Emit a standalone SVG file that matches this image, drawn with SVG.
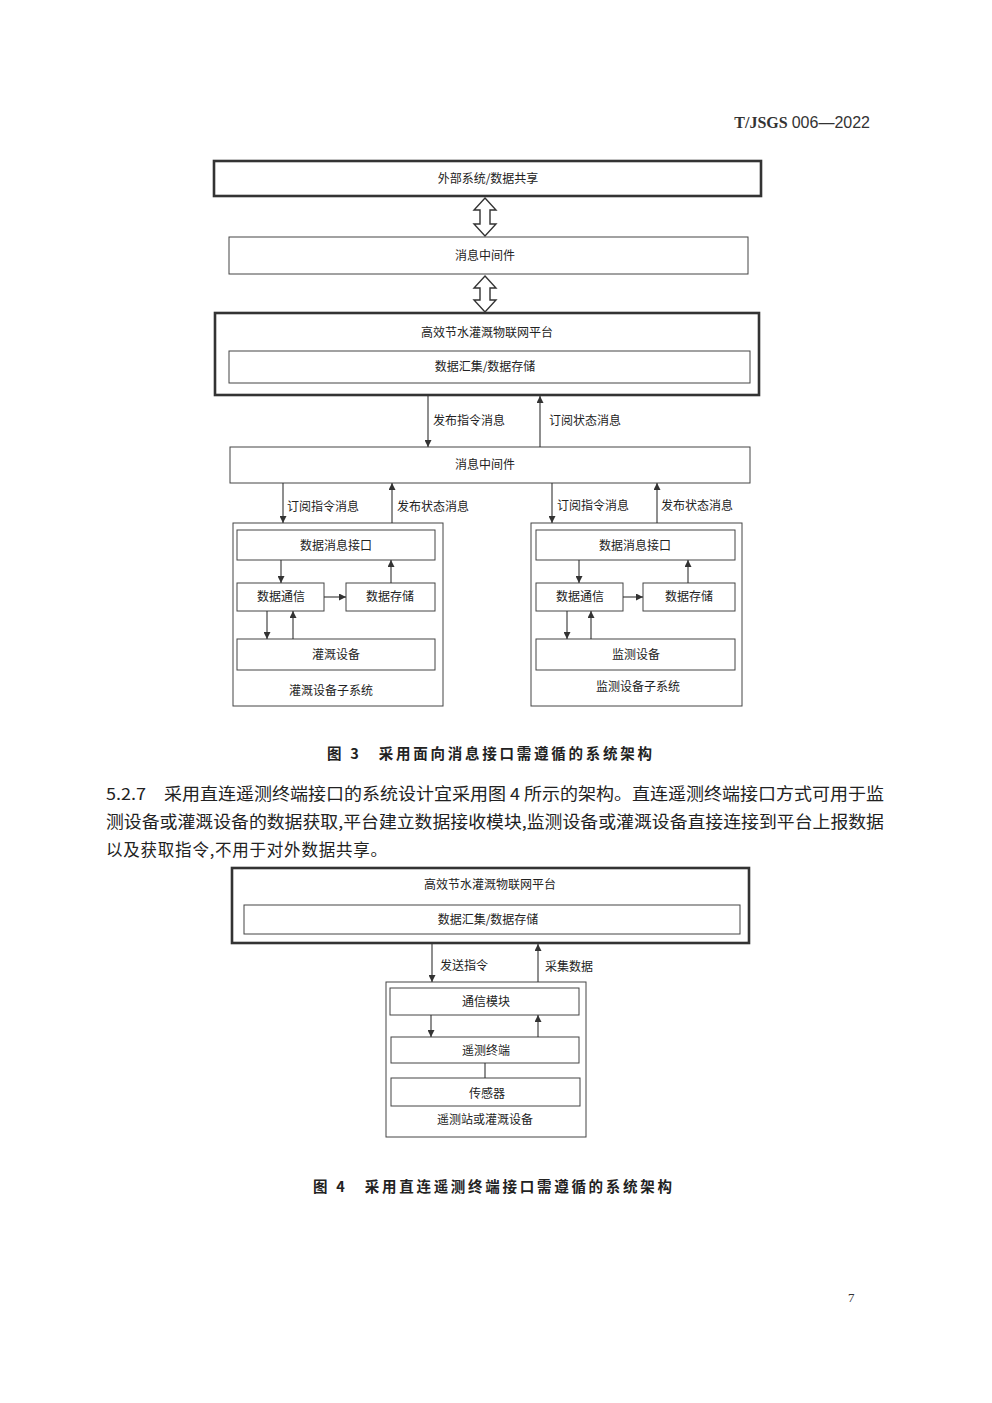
<svg xmlns="http://www.w3.org/2000/svg" width="992" height="1403" viewBox="0 0 992 1403">
<defs>
<marker id="ah" viewBox="0 0 10 10" refX="10" refY="5" markerWidth="7" markerHeight="7" markerUnits="userSpaceOnUse" orient="auto"><path d="M0,0 L10,5 L0,10 z" fill="#333"/></marker>
<style>
.thick{fill:#fff;stroke:#333;stroke-width:2.6}
.thin{fill:#fff;stroke:#444;stroke-width:1}
.t{font-family:"Noto Sans CJK SC","Liberation Sans",sans-serif;font-size:12px;fill:#222}
.c{text-anchor:middle}
.ln{stroke:#333;stroke-width:1.1;fill:none;marker-end:url(#ah)}
.pl{stroke:#333;stroke-width:1.1;fill:none}
.hollow{fill:#fff;stroke:#333;stroke-width:1.4}
.body{font-family:"Noto Sans CJK SC","Liberation Sans",sans-serif;font-size:16.5px;fill:#222}
.cap{font-family:"Noto Sans CJK SC","Liberation Sans",sans-serif;font-size:14.5px;font-weight:bold;fill:#222}
</style>
</defs>
<rect width="992" height="1403" fill="#fff"/>
<text x="870" y="128" font-family="Liberation Serif,serif" font-size="16" font-weight="bold" fill="#333" text-anchor="end">T/JSGS <tspan font-family="Liberation Sans,sans-serif" font-weight="normal">006—2022</tspan></text>

<!-- Figure 3 nodes -->
<g id="ext"><rect class="thick" x="214" y="161" width="547" height="35"/><text class="t c" x="488" y="183">外部系统/数据共享</text></g>
<g id="mq1"><rect class="thin" x="229" y="237" width="519" height="37"/><text class="t c" x="485" y="260">消息中间件</text></g>
<g id="platform"><rect class="thick" x="215" y="313" width="544" height="82"/><text class="t c" x="487" y="337">高效节水灌溉物联网平台</text>
<rect class="thin" x="229" y="351" width="521" height="32"/><text class="t c" x="485" y="371">数据汇集/数据存储</text></g>
<g id="mq2"><rect class="thin" x="230" y="447" width="520" height="36"/><text class="t c" x="485" y="469">消息中间件</text></g>

<g id="sub1">
<rect class="thin" x="233" y="523" width="210" height="183"/>
<rect class="thin" x="237" y="530" width="198" height="30"/><text class="t c" x="336" y="550">数据消息接口</text>
<rect class="thin" x="237" y="583" width="87" height="28"/><text class="t c" x="281" y="601">数据通信</text>
<rect class="thin" x="346" y="583" width="89" height="28"/><text class="t c" x="390" y="601">数据存储</text>
<rect class="thin" x="237" y="639" width="198" height="31"/><text class="t c" x="336" y="659">灌溉设备</text>
<text class="t c" x="331" y="695">灌溉设备子系统</text>
</g>
<g id="sub2">
<rect class="thin" x="531" y="523" width="211" height="183"/>
<rect class="thin" x="536" y="530" width="199" height="30"/><text class="t c" x="635" y="550">数据消息接口</text>
<rect class="thin" x="536" y="583" width="87" height="28"/><text class="t c" x="580" y="601">数据通信</text>
<rect class="thin" x="643" y="583" width="92" height="28"/><text class="t c" x="689" y="601">数据存储</text>
<rect class="thin" x="536" y="639" width="199" height="31"/><text class="t c" x="636" y="659">监测设备</text>
<text class="t c" x="638" y="691">监测设备子系统</text>
</g>

<!-- Figure 3 connectors -->
<g id="connectors3">
<polygon class="hollow" points="485,198 496,210 490,210 490,224 496,224 485,236 474,224 480,224 480,210 474,210"/>
<polygon class="hollow" points="485,276 496,288 490,288 490,300 496,300 485,312 474,300 480,300 480,288 474,288"/>
<line class="ln" x1="428" y1="396" x2="428" y2="447"/>
<line class="ln" x1="540" y1="447" x2="540" y2="396"/>
<text class="t" x="433" y="425">发布指令消息</text>
<text class="t" x="549" y="425">订阅状态消息</text>
<line class="ln" x1="283" y1="483" x2="283" y2="523"/>
<line class="ln" x1="392" y1="523" x2="392" y2="483"/>
<text class="t" x="287" y="511">订阅指令消息</text>
<text class="t" x="397" y="511">发布状态消息</text>
<line class="ln" x1="552" y1="483" x2="552" y2="523"/>
<line class="ln" x1="657" y1="523" x2="657" y2="483"/>
<text class="t" x="557" y="510">订阅指令消息</text>
<text class="t" x="661" y="510">发布状态消息</text>
<line class="ln" x1="281" y1="560" x2="281" y2="583"/>
<line class="ln" x1="391" y1="583" x2="391" y2="560"/>
<line class="ln" x1="324" y1="597" x2="346" y2="597"/>
<line class="ln" x1="267" y1="611" x2="267" y2="639"/>
<line class="ln" x1="293" y1="639" x2="293" y2="611"/>
<line class="ln" x1="579" y1="560" x2="579" y2="583"/>
<line class="ln" x1="688" y1="583" x2="688" y2="560"/>
<line class="ln" x1="623" y1="597" x2="643" y2="597"/>
<line class="ln" x1="567" y1="611" x2="567" y2="639"/>
<line class="ln" x1="591" y1="639" x2="591" y2="611"/>
</g>

<text class="cap" x="327" y="759" textLength="325" lengthAdjust="spacing">图 3　采用面向消息接口需遵循的系统架构</text>

<text class="body" x="106" y="800" textLength="778" lengthAdjust="spacingAndGlyphs">5.2.7　采用直连遥测终端接口的系统设计宜采用图 4 所示的架构。直连遥测终端接口方式可用于监</text>
<text class="body" x="106" y="828" textLength="778" lengthAdjust="spacingAndGlyphs">测设备或灌溉设备的数据获取,平台建立数据接收模块,监测设备或灌溉设备直接连接到平台上报数据</text>
<text class="body" x="106" y="856" textLength="281" lengthAdjust="spacing">以及获取指令,不用于对外数据共享。</text>

<!-- Figure 4 nodes -->
<g id="platform4"><rect class="thick" x="232" y="868" width="517" height="75"/><text class="t c" x="490" y="889">高效节水灌溉物联网平台</text>
<rect class="thin" x="244" y="905" width="496" height="29"/><text class="t c" x="488" y="924">数据汇集/数据存储</text></g>
<g id="station">
<rect class="thin" x="386" y="982" width="200" height="155"/>
<rect class="thin" x="390" y="988" width="189" height="27"/><text class="t c" x="486" y="1006">通信模块</text>
<rect class="thin" x="391" y="1037" width="188" height="26"/><text class="t c" x="486" y="1055">遥测终端</text>
<rect class="thin" x="391" y="1078" width="189" height="28"/><text class="t c" x="487" y="1098">传感器</text>
<text class="t c" x="485" y="1124">遥测站或灌溉设备</text>
</g>
<g id="connectors4">
<line class="ln" x1="432" y1="944" x2="432" y2="982"/>
<line class="ln" x1="538" y1="982" x2="538" y2="944"/>
<text class="t" x="440" y="970">发送指令</text>
<text class="t" x="545" y="971">采集数据</text>
<line class="ln" x1="431" y1="1015" x2="431" y2="1037"/>
<line class="ln" x1="538" y1="1037" x2="538" y2="1015"/>
<line class="pl" x1="485" y1="1063" x2="485" y2="1078"/>
</g>

<text class="cap" x="313" y="1192" textLength="359" lengthAdjust="spacing">图 4　采用直连遥测终端接口需遵循的系统架构</text>
<text x="848" y="1302" font-family="Liberation Serif,serif" font-size="13" fill="#333">7</text>
</svg>
